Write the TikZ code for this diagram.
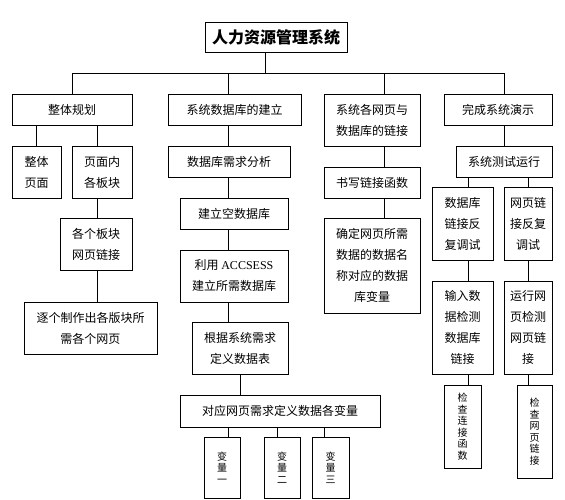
\documentclass[tikz,border=0pt]{standalone}
\usepackage{fontspec}
\setmainfont{Noto Sans CJK SC}
\newfontfamily\latinfont{Liberation Serif}
\usetikzlibrary{positioning}
\tikzset{
  boxW/.style={rectangle, draw=black, line width=0.8pt, fill=white, align=center,
               font=\fontsize{12}{21}\selectfont, inner sep=0pt},
  boxT/.style={boxW, font=\fontsize{16}{20}\selectfont\bfseries},
  boxV/.style={boxW, font=\fontsize{10}{11.5}\selectfont},
  linkL/.style={black, line width=0.8pt},
}

\begin{document}
\begin{tikzpicture}[x=1pt, y=-1pt]
    \useasboundingbox (0,0) rectangle (565,500);
    % top
    \node[boxT, minimum width=142pt, minimum height=30pt] (title) at (276,37) {人力资源管理系统};
    \node[boxW, minimum width=120pt, minimum height=31pt] (plan) at (72,109.5) {整体规划};
    \node[boxW, minimum width=133pt, minimum height=31pt] (dbBuild) at (234.5,109.5) {系统数据库的建立};
    \node[boxW, minimum width=96pt, minimum height=52pt] (webLink) at (372,120) {系统各网页与\\数据库的链接};
    \node[boxW, minimum width=108pt, minimum height=31pt] (demo) at (498,109.5) {完成系统演示};
    % column 1
    \node[boxW, minimum width=49pt, minimum height=52pt] (whole) at (36.5,172) {整体\\页面};
    \node[boxW, minimum width=60pt, minimum height=52pt] (inner) at (102,172) {页面内\\各板块};
    \node[boxW, minimum width=72pt, minimum height=52pt] (blkLink) at (96,244) {各个板块\\网页链接};
    \node[boxW, minimum width=133pt, minimum height=52pt] (pages) at (90.5,328) {逐个制作出各版块所\\需各个网页};
    % column 2
    \node[boxW, minimum width=122pt, minimum height=31pt] (need) at (229,161.5) {数据库需求分析};
    \node[boxW, minimum width=108pt, minimum height=31pt] (empty) at (234,213.5) {建立空数据库};
    \node[boxW, minimum width=108pt, minimum height=52pt] (access) at (234,276) {利用 {\latinfont ACCSESS}\\建立所需数据库};
    \node[boxW, minimum width=96pt, minimum height=52pt] (table) at (240,348) {根据系统需求\\定义数据表};
    \node[boxW, minimum width=200pt, minimum height=32pt] (vars) at (280,411) {对应网页需求定义数据各变量};
    \node[boxV, minimum width=36pt, minimum height=61pt] (var1) at (222,467.5) {变\\量\\一};
    \node[boxV, minimum width=36pt, minimum height=61pt] (var2) at (282,467.5) {变\\量\\二};
    \node[boxV, minimum width=37pt, minimum height=61pt] (var3) at (330.5,467.5) {变\\量\\三};
    % column 3
    \node[boxW, minimum width=96pt, minimum height=31pt] (func) at (372,182.5) {书写链接函数};
    \node[boxW, minimum width=96pt, minimum height=95pt] (vname) at (372,265.5) {确定网页所需\\数据的数据名\\称对应的数据\\库变量};
    % column 4
    \node[boxW, minimum width=96pt, minimum height=31pt] (test) at (504,161.5) {系统测试运行};
    \node[boxW, minimum width=61pt, minimum height=73pt] (dbDebug) at (462.5,223.5) {数据库\\链接反\\复调试};
    \node[boxW, minimum width=48pt, minimum height=73pt] (webDebug) at (528,223.5) {网页链\\接反复\\调试};
    \node[boxW, minimum width=61pt, minimum height=93pt] (dbCheck) at (462.5,327.5) {输入数\\据检测\\数据库\\链接};
    \node[boxW, minimum width=48pt, minimum height=93pt] (webCheck) at (528,327.5) {运行网\\页检测\\网页链\\接};
    \node[boxV, minimum width=37pt, minimum height=83pt] (fnCheck) at (462.5,426.5) {检\\查\\连\\接\\函\\数};
    \node[boxV, minimum width=35pt, minimum height=93pt] (pgCheck) at (534.5,431.5) {检\\查\\网\\页\\链\\接};

    % stem positions
    \coordinate (x0) at (265,73);
    \coordinate (x1) at (97,73);
    \coordinate (x2) at (228,73);
    \coordinate (x3) at (384,73);
    \coordinate (x4) at (504,73);
    \coordinate (x5) at (468,73);
    \coordinate (v2) at (277,0);
    \coordinate (v3) at (324,0);

    % connectors
    \draw[linkL] (title.south -| x0) -- (x0);
    \draw[linkL] (plan.north) |- (x4) -- (demo.north -| x4);
    \draw[linkL] (x2) -- (dbBuild.north -| x2);
    \draw[linkL] (x3) -- (webLink.north -| x3);
    \draw[linkL] (whole.north) -- (whole.north |- plan.south);
    \draw[linkL] (plan.south -| x1) -- (inner.north -| x1);
    \draw[linkL] (inner.south -| x1) -- (blkLink.north -| x1);
    \draw[linkL] (blkLink.south -| x1) -- (pages.north -| x1);
    \draw[linkL] (dbBuild.south -| x2) -- (need.north -| x2);
    \draw[linkL] (need.south -| x2) -- (empty.north -| x2);
    \draw[linkL] (empty.south -| x2) -- (access.north -| x2);
    \draw[linkL] (access.south -| x2) -- (table.north -| x2);
    \draw[linkL] (table.south) -- (table.south |- vars.north);
    \draw[linkL] (vars.south -| x2) -- (var1.north -| x2);
    \draw[linkL] (vars.south -| v2) -- (var2.north -| v2);
    \draw[linkL] (vars.south -| v3) -- (var3.north -| v3);
    \draw[linkL] (webLink.south -| x3) -- (func.north -| x3);
    \draw[linkL] (func.south -| x3) -- (vname.north -| x3);
    \draw[linkL] (demo.south -| x4) -- (test.north);
    \draw[linkL] (test.south -| x5) -- (dbDebug.north -| x5);
    \draw[linkL] (dbDebug.south -| x5) -- (dbCheck.north -| x5);
    \draw[linkL] (dbCheck.south -| x5) -- (fnCheck.north -| x5);
    \draw[linkL] (test.south -| webDebug.north) -- (webDebug.north);
    \draw[linkL] (webDebug.south) -- (webCheck.north);
    \draw[linkL] (webCheck.south) -- (webCheck.south |- pgCheck.north);
\end{tikzpicture}
\end{document}
